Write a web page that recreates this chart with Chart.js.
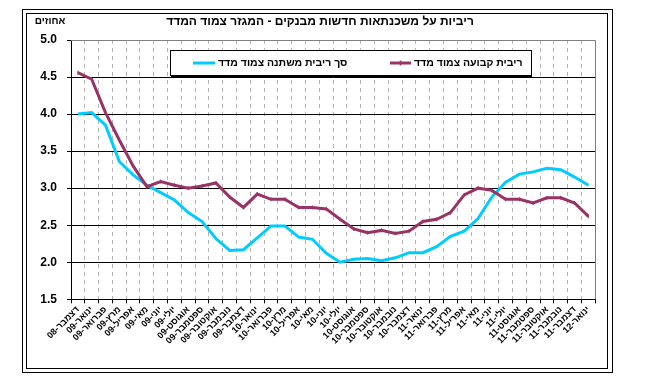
<!DOCTYPE html>
<html>
<head>
<meta charset="utf-8">
<script src="https://cdn.jsdelivr.net/npm/chart.js@4/dist/chart.umd.min.js"></script>
<style>
html,body{margin:0;padding:0;background:#fff;}
canvas{display:block;direction:rtl;}
</style>
</head>
<body>
<canvas id="c" width="659" height="387"></canvas>
<script>
const categories = [
 "דצמבר-08","ינואר-09","פברואר-09","מרץ-09","אפריל-09","מאי-09","יוני-09","יולי-09","אוגוסט-09","ספטמבר-09","אוקטובר-09","נובמבר-09",
 "דצמבר-09","ינואר-10","פברואר-10","מרץ-10","אפריל-10","מאי-10","יוני-10","יולי-10","אוגוסט-10","ספטמבר-10","אוקטובר-10","נובמבר-10",
 "דצמבר-10","ינואר-11","פברואר-11","מרץ-11","אפריל-11","מאי-11","יוני-11","יולי-11","אוגוסט-11","ספטמבר-11","אוקטובר-11","נובמבר-11",
 "דצמבר-11","ינואר-12"
];
const fixedRate = [4.56,4.47,4.02,3.65,3.30,3.02,3.09,3.04,3.00,3.03,3.07,2.88,
 2.74,2.92,2.85,2.85,2.74,2.74,2.72,2.58,2.45,2.40,2.43,2.39,
 2.42,2.55,2.58,2.67,2.91,3.00,2.97,2.85,2.85,2.80,2.87,2.87,
 2.80,2.62];
const variableRate = [4.00,4.02,3.85,3.36,3.18,3.04,2.94,2.84,2.67,2.55,2.32,2.16,
 2.17,2.33,2.49,2.49,2.34,2.31,2.12,2.00,2.04,2.05,2.02,2.06,
 2.13,2.13,2.21,2.35,2.42,2.59,2.88,3.08,3.19,3.22,3.27,3.25,
 3.15,3.04];
const seriesNames = ["ריבית קבועה צמוד מדד","סך ריבית משתנה צמוד מדד"];
const titleText = "ריביות על משכנתאות חדשות מבנקים - המגזר צמוד המדד";
const unitText = "אחוזים";
const yMin = 1.5, yMax = 5.0, yStep = 0.5;

const MAROON = "#993366", CYAN = "#00ccff";
const FONT = "'Liberation Sans', Arial, sans-serif";

const framePlugin = {
  id: 'frame',
  beforeDraw(chart) {
    const ctx = chart.ctx;
    ctx.save();
    ctx.fillStyle = '#fff';
    ctx.fillRect(0, 0, chart.width, chart.height);
    ctx.strokeStyle = '#000';
    ctx.lineWidth = 1;
    ctx.strokeRect(22.5, 9.5, 590, 363);
    ctx.strokeRect(26.5, 13.5, 581, 355);
    ctx.restore();
  },
  afterDraw(chart) {
    const ctx = chart.ctx;
    const a = chart.chartArea;
    ctx.save();
    ctx.strokeStyle = '#808080';
    ctx.lineWidth = 1;
    ctx.beginPath();
    ctx.moveTo(a.left, Math.round(a.top) + 0.5);
    ctx.lineTo(Math.round(a.right) + 0.5, Math.round(a.top) + 0.5);
    ctx.lineTo(Math.round(a.right) + 0.5, a.bottom);
    ctx.stroke();
    ctx.direction = 'rtl';
    ctx.fillStyle = '#000';
    ctx.textBaseline = 'middle';
    ctx.textAlign = 'center';
    ctx.font = "bold 12px " + FONT;
    ctx.fillText(titleText, 320, 22);
    ctx.font = "bold 10px " + FONT;
    ctx.fillText(unitText, 50, 21);
    ctx.fillStyle = '#fff';
    ctx.fillRect(170, 50, 362, 25);
    ctx.strokeStyle = '#000';
    ctx.lineWidth = 1;
    ctx.strokeRect(170.5, 50.5, 361, 25);
    ctx.beginPath();
    ctx.moveTo(171, 76.5); ctx.lineTo(532, 76.5);
    ctx.stroke();
    const ly = 63;
    const items = [
      {color: MAROON, x1: 390, x2: 411, tx: 414, text: seriesNames[0], marker: true},
      {color: CYAN, x1: 193, x2: 215, tx: 218, text: seriesNames[1], marker: false}
    ];
    ctx.font = "bold 10.5px " + FONT;
    ctx.textAlign = 'left';
    items.forEach(it => {
      ctx.strokeStyle = it.color;
      ctx.lineWidth = 3;
      ctx.beginPath();
      ctx.moveTo(it.x1, ly); ctx.lineTo(it.x2, ly);
      ctx.stroke();
      if (it.marker) {
        ctx.lineWidth = 1.5;
        ctx.beginPath();
        const mx = (it.x1 + it.x2) / 2;
        ctx.moveTo(mx, ly - 2.5); ctx.lineTo(mx, ly + 2.5);
        ctx.stroke();
      }
      ctx.fillStyle = '#000';
      ctx.fillText(it.text, it.tx, ly);
    });
    ctx.restore();
  }
};

new Chart(document.getElementById('c'), {
  type: 'line',
  data: {
    labels: categories,
    datasets: [
      {label: seriesNames[0], data: fixedRate, borderColor: MAROON, backgroundColor: MAROON,
       borderWidth: 3, tension: 0, pointStyle: 'line', rotation: 90, pointRadius: 2,
       pointBorderWidth: 1, pointBorderColor: MAROON},
      {label: seriesNames[1], data: variableRate, borderColor: CYAN, backgroundColor: CYAN,
       borderWidth: 3, tension: 0, pointRadius: 0}
    ]
  },
  options: {
    responsive: false,
    animation: false,
    devicePixelRatio: 1,
    layout: {padding: {left: 0, right: 63.7, top: 40, bottom: 37.7}},
    plugins: {legend: {display: false}, title: {display: false}, tooltip: {enabled: false}},
    scales: {
      x: {
        type: 'category',
        offset: true,
        afterFit(s) { s.height = 50; },
        grid: {
          offset: true,
          color: (c) => (typeof c.index !== 'number' || c.index === 0) ? 'rgba(0,0,0,0)' : '#b4b4b4',
          lineWidth: 1,
          tickColor: '#000',
          tickLength: 4,
          drawTicks: true
        },
        border: {display: true, color: '#000', width: 1, dash: [4, 4]},
        ticks: {
          autoSkip: false, minRotation: 45, maxRotation: 45, padding: 1,
          color: '#000', font: {family: FONT, size: 9, weight: 'bold'}
        }
      },
      y: {
        min: yMin, max: yMax,
        afterFit(s) { s.width = 71; },
        grid: {
          color: (c) => (c.tick && c.tick.value === yMax) ? '#808080' : '#000',
          lineWidth: 1,
          tickColor: '#000',
          tickLength: 4
        },
        border: {display: true, color: '#000', width: 1},
        ticks: {
          stepSize: yStep, padding: 10, color: '#000',
          font: {family: FONT, size: 12, weight: 'bold'},
          callback: (v) => Number(v).toFixed(1)
        }
      }
    }
  },
  plugins: [framePlugin]
});
</script>
</body>
</html>
